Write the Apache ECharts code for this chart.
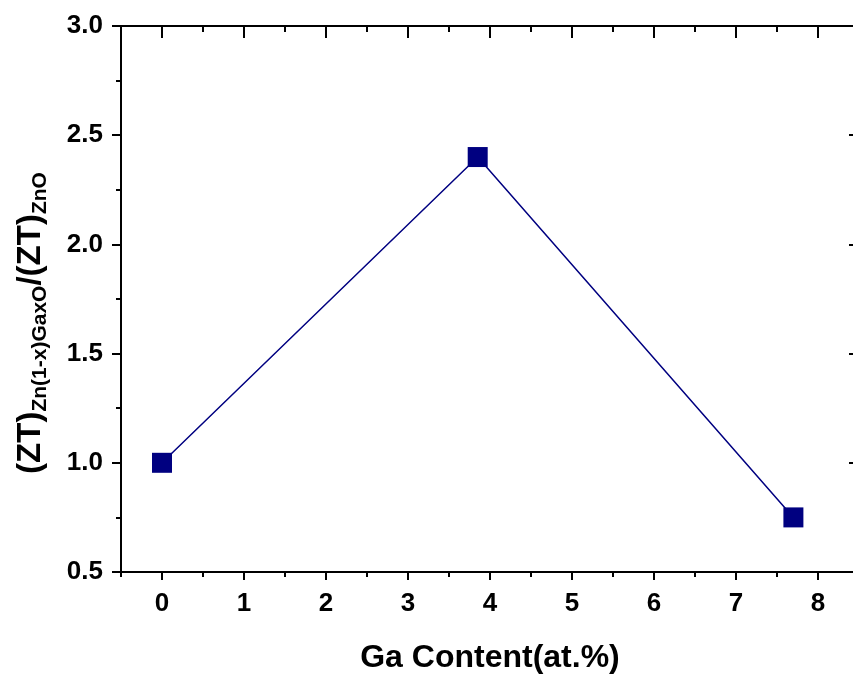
<!DOCTYPE html>
<html>
<head>
<meta charset="utf-8">
<script src="https://cdn.jsdelivr.net/npm/echarts@6/dist/echarts.min.js"></script>
<style>html,body{margin:0;padding:0;background:#fff}#c{width:853px;height:679px}</style>
</head>
<body>
<div id="c"></div>
<script>
// Data
var gaContent = [0, 3.85, 7.7];
var ztRatio = [1.0, 2.4, 0.75];
var xTickLabels = [0, 1, 2, 3, 4, 5, 6, 7, 8];
var yTickLabels = [0.5, 1.0, 1.5, 2.0, 2.5, 3.0];

var FONT = 'Liberation Sans';
var chart = echarts.init(document.getElementById('c'), null, {renderer: 'canvas'});

var lineStyle = {color: '#000', width: 2};
function xAx(pos, opts) {
  return Object.assign({
    type: 'value', position: pos, gridIndex: 0,
    min: -0.5, max: 8.5, interval: 0.5,
    axisLine: {show: true, onZero: false, lineStyle: lineStyle},
    splitLine: {show: false},
    axisLabel: {show: false},
    axisTick: {show: true, lineStyle: {color: '#000', width: 2}}
  }, opts);
}

var option = {
  backgroundColor: '#fff',
  animation: false,
  grid: {left: 121, top: 26, width: 738, height: 546, containLabel: false, outerBoundsMode: 'none'},
  xAxis: [
    xAx('bottom', {
      axisTick: {show: true, inside: false, length: 5, lineStyle: {color: '#000', width: 2}},
      axisLabel: {show: true, customValues: xTickLabels, margin: 19,
        color: '#000', fontFamily: FONT, fontWeight: 'bold', fontSize: 26,
        formatter: function (v) { return String(v); }},
      name: 'Ga Content(at.%)', nameLocation: 'middle', nameGap: 70,
      nameTextStyle: {color: '#000', fontFamily: FONT, fontWeight: 'bold', fontSize: 32}
    }),
    xAx('bottom', {
      axisLine: {show: false, onZero: false},
      axisTick: {show: true, inside: false, length: 8, customValues: xTickLabels, lineStyle: {color: '#000', width: 2}}
    }),
    xAx('top', {
      axisTick: {show: true, inside: true, length: 6, lineStyle: {color: '#000', width: 2}}
    }),
    xAx('top', {
      axisLine: {show: false, onZero: false},
      axisTick: {show: true, inside: true, length: 12, customValues: xTickLabels, lineStyle: {color: '#000', width: 2}}
    })
  ],
  yAxis: [
    {
      type: 'value', position: 'left', min: 0.5, max: 3.0, interval: 0.5,
      axisLine: {show: true, onZero: false, lineStyle: lineStyle},
      splitLine: {show: false},
      axisTick: {show: true, inside: false, length: 9, lineStyle: {color: '#000', width: 2}},
      minorTick: {show: true, splitNumber: 2, length: 5, lineStyle: {color: '#000', width: 2}},
      minorSplitLine: {show: false},
      axisLabel: {show: true, margin: 18, color: '#000', fontFamily: FONT, fontWeight: 'bold', fontSize: 26,
        customValues: yTickLabels,
        formatter: function (v) { return v.toFixed(1); }},
      name: '{m|(ZT)}{s|Zn(1-x)GaxO}{m|/(ZT)}{s|ZnO}',
      nameLocation: 'middle', nameRotate: 90, nameGap: 70,
      nameTextStyle: {
        color: '#000', fontFamily: FONT, fontWeight: 'bold', padding: [0, 48, 0, 0],
        rich: {
          m: {fontFamily: FONT, fontWeight: 'bold', fontSize: 33, lineHeight: 41, color: '#000'},
          s: {fontFamily: FONT, fontWeight: 'bold', fontSize: 21, lineHeight: 21, verticalAlign: 'bottom', color: '#000'}
        }
      }
    },
    {
      type: 'value', position: 'right', min: 0.5, max: 3.0, interval: 0.5,
      axisLine: {show: true, onZero: false, lineStyle: lineStyle},
      splitLine: {show: false},
      axisTick: {show: true, inside: true, length: 10, lineStyle: {color: '#000', width: 2}},
      minorTick: {show: true, splitNumber: 2, length: 5, lineStyle: {color: '#000', width: 2}},
      axisLabel: {show: false}
    }
  ],
  series: [{
    type: 'line',
    xAxisIndex: 0, yAxisIndex: 0,
    data: gaContent.map(function (x, i) { return [x, ztRatio[i]]; }),
    symbol: 'rect', symbolSize: 20,
    itemStyle: {color: '#000080'},
    lineStyle: {color: '#000080', width: 1.5},
    emphasis: {disabled: true}
  }]
};
chart.setOption(option);
</script>
</body>
</html>
